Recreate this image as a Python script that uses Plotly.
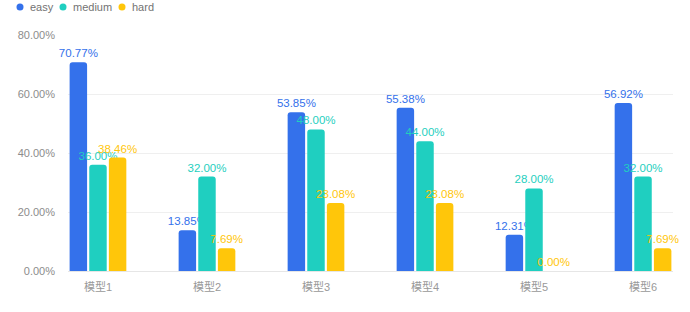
import plotly.graph_objects as go

categories = ["模型1", "模型2", "模型3", "模型4", "模型5", "模型6"]
easy = [70.77, 13.85, 53.85, 55.38, 12.31, 56.92]
medium = [36.00, 32.00, 48.00, 44.00, 28.00, 32.00]
hard = [38.46, 7.69, 23.08, 23.08, 0.00, 7.69]
series = [("easy", easy, "#3471EB"), ("medium", medium, "#1FCFC0"), ("hard", hard, "#FFC60A")]

W, H = 690, 312
ML, MR, MT, MB = 68, 17, 35, 41
PW, PH = W - ML - MR, H - MT - MB

def px2paper(x, y):
    return (x - ML) / PW, (H - MB - y) / PH

FONT = "Liberation Sans, Noto Sans CJK SC, sans-serif"

fig = go.Figure()
for name, vals, col in series:
    fig.add_trace(go.Bar(
        x=categories, y=vals, name=name, marker=dict(color=col, line=dict(width=0)),
        text=[f"{v:.2f}%" for v in vals], textposition="outside",
        textfont=dict(color=col, size=11.5, family=FONT), constraintext="none", cliponaxis=False,
        showlegend=False,
    ))

# manual legend (circle dots + names)
legend_x = [20, 63, 122]
shapes, annots = [], []
for (name, _, col), lx in zip(series, legend_x):
    cx, cy = px2paper(lx, 7)
    rx, ry = 3.5 / PW, 3.5 / PH
    shapes.append(dict(type="circle", xref="paper", yref="paper", x0=cx - rx, x1=cx + rx,
                       y0=cy - ry, y1=cy + ry, fillcolor=col, line=dict(width=0), layer="above"))
    tx, ty = px2paper(lx + 8, 7)
    annots.append(dict(text=name, xref="paper", yref="paper", x=tx, y=ty, xanchor="left",
                       yanchor="middle", showarrow=False, font=dict(size=11, color="#737373", family=FONT)))

fig.update_layout(
    width=W, height=H,
    margin=dict(l=ML, r=MR, t=MT, b=MB, autoexpand=False),
    paper_bgcolor="white", plot_bgcolor="white",
    font=dict(family=FONT, size=11, color="#8c8c8c"),
    barmode="group", bargap=0.46, bargroupgap=0.11, barcornerradius=3,
    showlegend=False, shapes=shapes, annotations=annots,
    xaxis=dict(range=[-0.275, 5.275], showgrid=False, showline=False, zeroline=False,
               ticks="", ticklabelstandoff=8, tickfont=dict(size=11, color="#999999")),
    yaxis=dict(range=[0, 80], dtick=20, tickformat=".2f", ticksuffix="%",
               showgrid=True, gridcolor="#efefef", gridwidth=1, zeroline=True,
               zerolinecolor="#e6e6e6", zerolinewidth=1, showline=False,
               ticklabelstandoff=12, tickfont=dict(size=11, color="#8c8c8c")),
)

fig.write_html("out.html")
